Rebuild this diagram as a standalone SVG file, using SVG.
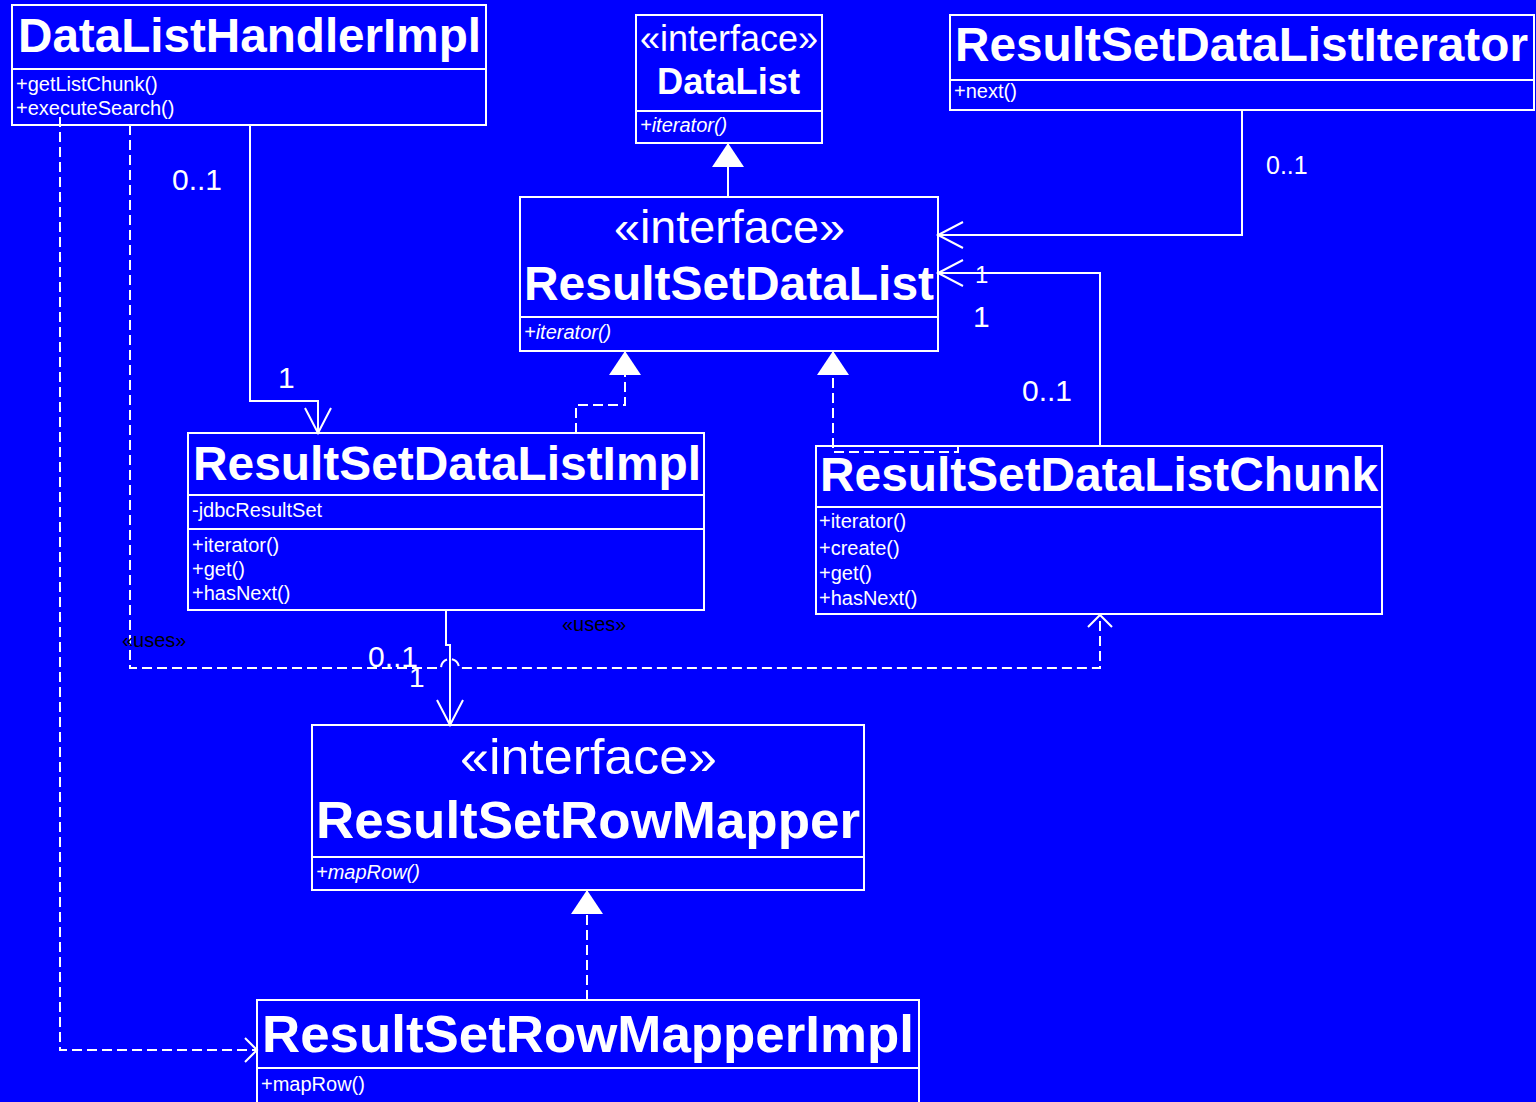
<svg xmlns="http://www.w3.org/2000/svg" width="1536" height="1102" viewBox="0 0 1536 1102">
  <style>
    .box { fill: none; stroke: #fff; stroke-width: 2; }
    .sep { stroke: #fff; stroke-width: 2; }
    .t { font-family: "Liberation Sans", Arial, sans-serif; fill: #fff; }
    .b { font-weight: bold; }
    .m { font-size: 20px; }
    .i { font-style: italic; }
    .ln { fill: none; stroke: #fff; stroke-width: 2; }
    .dash { stroke-dasharray: 10 5; }
    .lbl { font-family: "Liberation Sans", Arial, sans-serif; fill: #fff; }
    .st { font-family: "Liberation Sans", Arial, sans-serif; fill: #000; font-size: 20px; }
  </style>
  <defs>
    <!-- filled triangle for generalization / realization -->
    <marker id="tri" markerUnits="userSpaceOnUse" markerWidth="26" markerHeight="34" refX="24" refY="16" orient="auto" overflow="visible">
      <path d="M0,0 L24,16 L0,32 Z" fill="#fff" stroke="none"/>
    </marker>
    <!-- open arrowhead for navigable associations -->
    <marker id="open" markerUnits="userSpaceOnUse" markerWidth="28" markerHeight="28" refX="25" refY="13" orient="auto" overflow="visible">
      <path d="M0,0 L25,13 L0,26" fill="none" stroke="#fff" stroke-width="2" stroke-dasharray="none"/>
    </marker>
    <!-- small open arrowhead for dependencies -->
    <marker id="openSm" markerUnits="userSpaceOnUse" markerWidth="14" markerHeight="26" refX="12" refY="12" orient="auto" overflow="visible">
      <path d="M0,0 L12,12 L0,24" fill="none" stroke="#fff" stroke-width="2" stroke-dasharray="none"/>
    </marker>
  </defs>

  <rect x="0" y="0" width="1536" height="1102" fill="#0000ff"/>

  <g id="DataListHandlerImpl">
    <rect class="box" x="12" y="5" width="474" height="120"/>
    <line class="sep" x1="12" y1="69" x2="486" y2="69"/>
    <text class="t b" x="18" y="52" font-size="48" textLength="463" lengthAdjust="spacingAndGlyphs">DataListHandlerImpl</text>
    <text class="t m" x="16" y="91">+getListChunk()</text>
    <text class="t m" x="16" y="115">+executeSearch()</text>
  </g>

  <g id="DataList">
    <rect class="box" x="636" y="15" width="186" height="128"/>
    <line class="sep" x1="636" y1="111" x2="822" y2="111"/>
    <text class="t" x="640" y="51" font-size="36" textLength="178" lengthAdjust="spacingAndGlyphs">«interface»</text>
    <text class="t b" x="657" y="94" font-size="36" textLength="143" lengthAdjust="spacingAndGlyphs">DataList</text>
    <text class="t m i" x="640" y="132">+iterator()</text>
  </g>

  <g id="ResultSetDataListIterator">
    <rect class="box" x="950" y="15" width="584" height="95"/>
    <line class="sep" x1="950" y1="80" x2="1534" y2="80"/>
    <text class="t b" x="955" y="61" font-size="48" textLength="573" lengthAdjust="spacingAndGlyphs">ResultSetDataListIterator</text>
    <text class="t m" x="954" y="98">+next()</text>
  </g>

  <g id="ResultSetDataList">
    <rect class="box" x="520" y="197" width="418" height="154"/>
    <line class="sep" x1="520" y1="317" x2="938" y2="317"/>
    <text class="t" x="614" y="243" font-size="46" textLength="231" lengthAdjust="spacingAndGlyphs">«interface»</text>
    <text class="t b" x="524" y="300" font-size="48" textLength="410" lengthAdjust="spacingAndGlyphs">ResultSetDataList</text>
    <text class="t m i" x="524" y="339">+iterator()</text>
  </g>

  <g id="ResultSetDataListImpl">
    <rect class="box" x="188" y="433" width="516" height="177"/>
    <line class="sep" x1="188" y1="495" x2="704" y2="495"/>
    <line class="sep" x1="188" y1="529" x2="704" y2="529"/>
    <text class="t b" x="193" y="480" font-size="48" textLength="508" lengthAdjust="spacingAndGlyphs">ResultSetDataListImpl</text>
    <text class="t m" x="192" y="517">-jdbcResultSet</text>
    <text class="t m" x="192" y="552">+iterator()</text>
    <text class="t m" x="192" y="576">+get()</text>
    <text class="t m" x="192" y="600">+hasNext()</text>
  </g>

  <g id="ResultSetDataListChunk">
    <rect class="box" x="816" y="446" width="566" height="168"/>
    <line class="sep" x1="816" y1="507" x2="1382" y2="507"/>
    <text class="t b" x="820" y="491" font-size="48" textLength="558" lengthAdjust="spacingAndGlyphs">ResultSetDataListChunk</text>
    <text class="t m" x="819" y="528">+iterator()</text>
    <text class="t m" x="819" y="555">+create()</text>
    <text class="t m" x="819" y="580">+get()</text>
    <text class="t m" x="819" y="605">+hasNext()</text>
  </g>

  <g id="ResultSetRowMapper">
    <rect class="box" x="312" y="725" width="552" height="165"/>
    <line class="sep" x1="312" y1="857" x2="864" y2="857"/>
    <text class="t" x="460" y="774" font-size="50" textLength="257" lengthAdjust="spacingAndGlyphs">«interface»</text>
    <text class="t b" x="316" y="838" font-size="52" textLength="544" lengthAdjust="spacingAndGlyphs">ResultSetRowMapper</text>
    <text class="t m i" x="316" y="879">+mapRow()</text>
  </g>

  <g id="ResultSetRowMapperImpl">
    <rect class="box" x="257" y="1000" width="662" height="112"/>
    <line class="sep" x1="257" y1="1068" x2="919" y2="1068"/>
    <text class="t b" x="262" y="1052" font-size="52" textLength="652" lengthAdjust="spacingAndGlyphs">ResultSetRowMapperImpl</text>
    <text class="t m" x="261" y="1091">+mapRow()</text>
  </g>

  <g id="connectors">
    <!-- ResultSetDataList extends DataList -->
    <path class="ln" d="M728,197 V143" marker-end="url(#tri)"/>
    <!-- implementations of ResultSetDataList -->
    <path class="ln dash" d="M576,433 V405 H625 V351" marker-end="url(#tri)"/>
    <path class="ln dash" d="M958,446 V452 H833 V351" marker-end="url(#tri)"/>
    <!-- ResultSetRowMapperImpl implements ResultSetRowMapper -->
    <path class="ln dash" d="M587,1000 V890" marker-end="url(#tri)"/>

    <!-- associations -->
    <path class="ln" d="M250,125 V401 H318 V433" marker-end="url(#open)"/>
    <path class="ln" d="M1242,110 V235 H938" marker-end="url(#open)"/>
    <path class="ln" d="M1100,446 V273 H938" marker-end="url(#open)"/>
    <path class="ln" d="M446,610 V645 H450 V725" marker-end="url(#open)"/>

    <!-- uses dependencies -->
    <path class="ln dash" d="M130,125 V668 H441 A9,9 0 0 1 459,668 H1100 V615" marker-end="url(#openSm)"/>
    <path class="ln dash" d="M60,117 V1050 H257" marker-end="url(#openSm)"/>

    <!-- multiplicities -->
    <text class="lbl" x="172" y="190" font-size="30">0..1</text>
    <text class="lbl" x="278" y="388" font-size="30">1</text>
    <text class="lbl" x="1266" y="174" font-size="25">0..1</text>
    <text class="lbl" x="975" y="283" font-size="24">1</text>
    <text class="lbl" x="973" y="327" font-size="30">1</text>
    <text class="lbl" x="1022" y="401" font-size="30">0..1</text>
    <text class="lbl" x="368" y="667" font-size="30">0..1</text>
    <text class="lbl" x="409" y="687" font-size="28">1</text>

    <!-- stereotypes -->
    <text class="st" x="122" y="647">«uses»</text>
    <text class="st" x="562" y="631">«uses»</text>
  </g>
</svg>
